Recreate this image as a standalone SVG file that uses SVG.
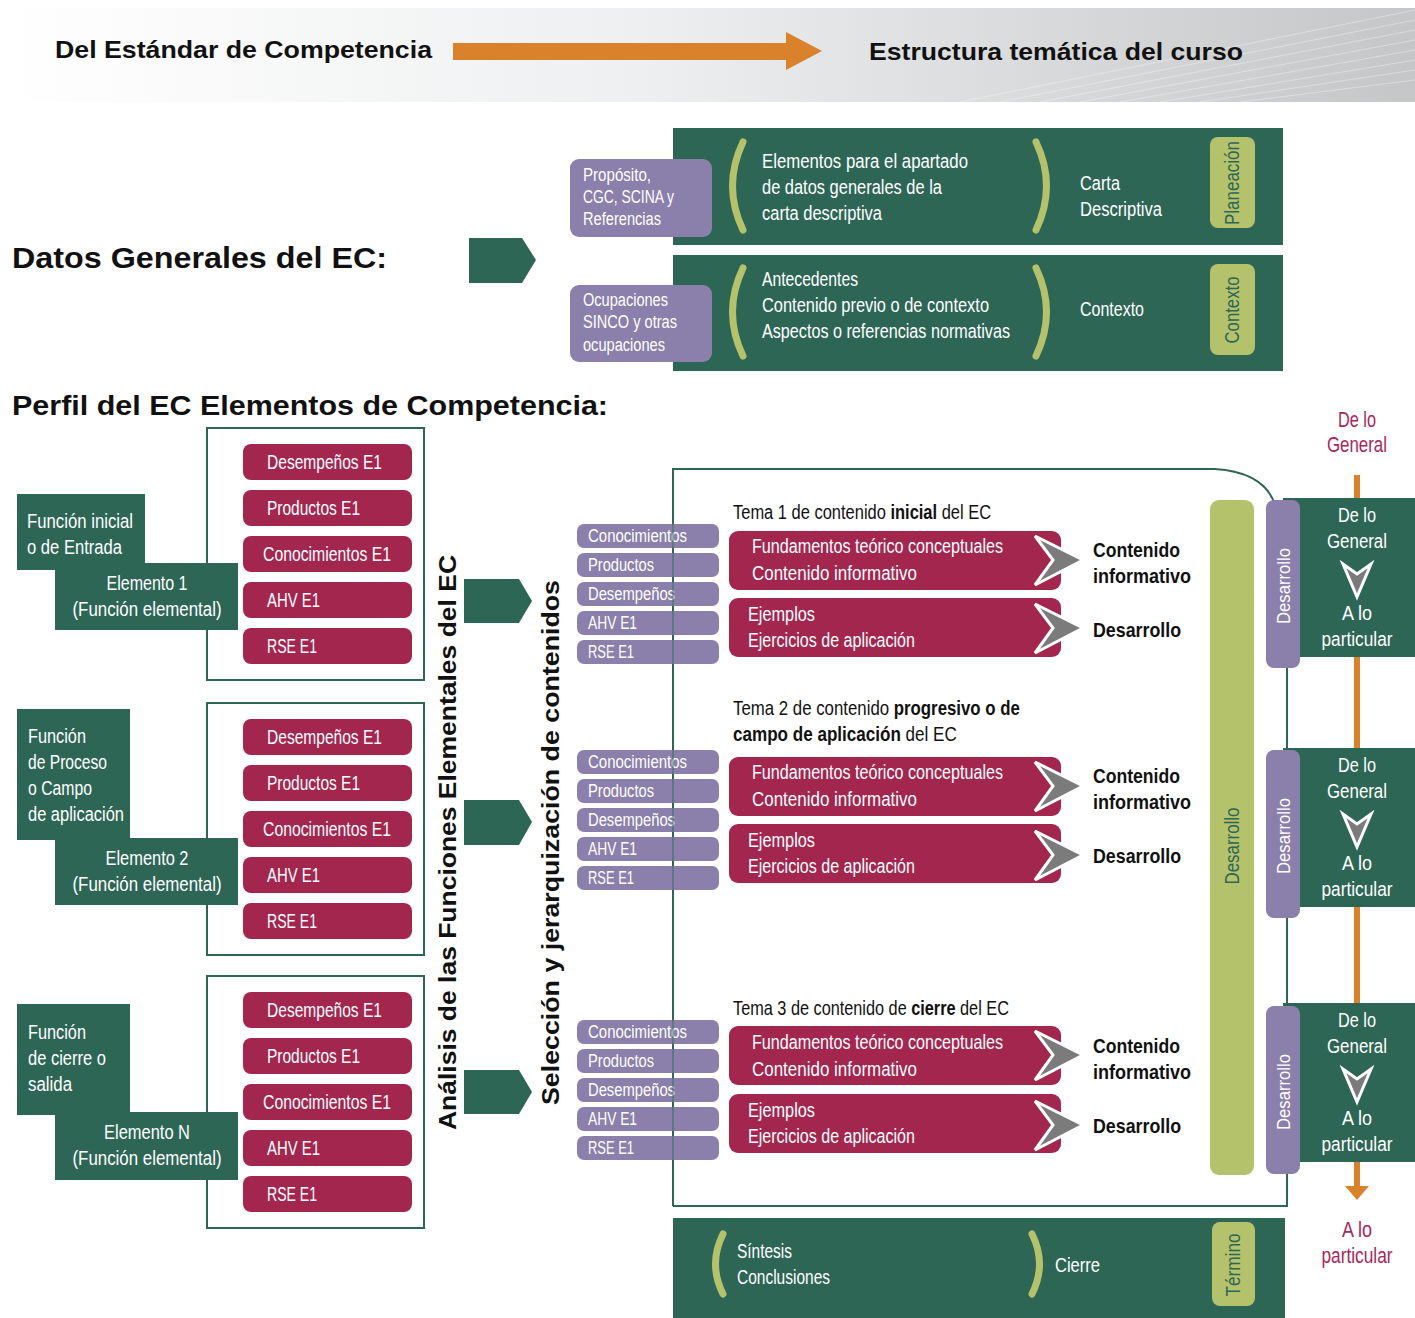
<svg xmlns="http://www.w3.org/2000/svg" width="1415" height="1318" viewBox="0 0 1415 1318">
<defs>
<linearGradient id="hdr" x1="0" y1="0" x2="1" y2="0">
<stop offset="0" stop-color="#ffffff"/>
<stop offset="0.45" stop-color="#eeeff0"/>
<stop offset="1" stop-color="#c4c6c8"/>
</linearGradient>
<style>
.c{font-family:'Liberation Sans','DejaVu Sans',sans-serif}
.h{font-family:'Liberation Sans','DejaVu Sans',sans-serif;font-weight:bold;fill:#111}
.w{fill:#ffffff;font-size:20px}
.ws{fill:#ffffff;font-size:18px}
.k{fill:#111;font-size:20px}
.b{font-weight:bold}
.kb{fill:#111;font-size:21px;font-weight:bold}
.pk{fill:#a8275a;font-size:22px}
.dg{fill:#2e6656}
.cr{fill:#a3264f}
.pu{fill:#8a80ab}
.lg{fill:#b5c26c}
.par{fill:none;stroke:#b5c26c;stroke-width:7;stroke-linecap:round}
.frame{fill:none;stroke:#2e6656;stroke-width:2}
.chev{fill:#7b7b7b;stroke:#ffffff;stroke-width:3;stroke-linejoin:miter}
.pt{fill:#2e6656;font-size:20px}
</style>
</defs>

<!-- header band -->
<rect x="0" y="8" width="1415" height="94" fill="url(#hdr)"/>
<g stroke="#ffffff" stroke-opacity="0.35" stroke-width="1">
<path d="M1000 102 L1415 20 M1040 102 L1415 30 M1080 102 L1415 40 M1120 102 L1415 50 M1160 102 L1415 60 M1200 102 L1415 70 M1240 102 L1415 80 M960 102 L1415 10"/>
</g>
<text class="h" x="55" y="58" font-size="24" textLength="377" lengthAdjust="spacingAndGlyphs">Del Estándar de Competencia</text>
<polygon points="453,43 786,43 786,32 822,51 786,70 786,60 453,60" fill="#d9822b"/>
<text class="h" x="869" y="60" font-size="24" textLength="374" lengthAdjust="spacingAndGlyphs">Estructura temática del curso</text>

<!-- section titles -->
<text class="h" x="12" y="268" font-size="29" textLength="375" lengthAdjust="spacingAndGlyphs">Datos Generales del EC:</text>
<text class="h" x="12" y="415" font-size="27" textLength="596" lengthAdjust="spacingAndGlyphs">Perfil del EC Elementos de Competencia:</text>

<g id="connectors">
<polygon class="dg" points="469,238 522,238 536,260 522,283 469,283"/>
<polygon class="dg" points="464,579 519,579 532,601 519,623 464,623"/>
<polygon class="dg" points="464,800 519,800 532,822 519,845 464,845"/>
<polygon class="dg" points="464,1070 519,1070 532,1092 519,1114 464,1114"/>
<rect x="1354" y="475" width="6" height="712" fill="#d9822b"/>
<polygon points="1345,1186 1369,1186 1357,1200" fill="#d9822b"/>
</g>

<!-- Datos generales: Planeacion -->
<g id="planeacion">
<rect class="dg" x="673" y="128" width="610" height="117"/>
<rect class="pu" x="570" y="159" width="142" height="78" rx="9"/>
<text class="c ws" x="583" y="181" textLength="68" lengthAdjust="spacingAndGlyphs">Propósito,</text>
<text class="c ws" x="583" y="203" textLength="91" lengthAdjust="spacingAndGlyphs">CGC, SCINA y</text>
<text class="c ws" x="583" y="225" textLength="78" lengthAdjust="spacingAndGlyphs">Referencias</text>
<path class="par" d="M743 142 Q722 186 743 230"/>
<text class="c w" x="762" y="168" textLength="206" lengthAdjust="spacingAndGlyphs">Elementos para el apartado</text>
<text class="c w" x="762" y="194" textLength="180" lengthAdjust="spacingAndGlyphs">de datos generales de la</text>
<text class="c w" x="762" y="220" textLength="120" lengthAdjust="spacingAndGlyphs">carta descriptiva</text>
<path class="par" d="M1036 142 Q1057 186 1036 230"/>
<text class="c w" x="1080" y="190" textLength="40" lengthAdjust="spacingAndGlyphs">Carta</text>
<text class="c w" x="1080" y="216" textLength="82" lengthAdjust="spacingAndGlyphs">Descriptiva</text>
<rect class="lg" x="1210" y="137" width="45" height="91" rx="8"/>
<text class="c pt" transform="translate(1239,183) rotate(-90)" text-anchor="middle" textLength="84" lengthAdjust="spacingAndGlyphs">Planeación</text>
</g>

<g id="contexto">
<rect class="dg" x="673" y="255" width="610" height="116"/>
<rect class="pu" x="570" y="285" width="142" height="77" rx="9"/>
<text class="c ws" x="583" y="306" textLength="85" lengthAdjust="spacingAndGlyphs">Ocupaciones</text>
<text class="c ws" x="583" y="328" textLength="94" lengthAdjust="spacingAndGlyphs">SINCO y otras</text>
<text class="c ws" x="583" y="351" textLength="82" lengthAdjust="spacingAndGlyphs">ocupaciones</text>
<path class="par" d="M743 268 Q722 312 743 356"/>
<text class="c w" x="762" y="286" textLength="96" lengthAdjust="spacingAndGlyphs">Antecedentes</text>
<text class="c w" x="762" y="312" textLength="227" lengthAdjust="spacingAndGlyphs">Contenido previo o de contexto</text>
<text class="c w" x="762" y="338" textLength="248" lengthAdjust="spacingAndGlyphs">Aspectos o referencias normativas</text>
<path class="par" d="M1036 268 Q1057 312 1036 356"/>
<text class="c w" x="1080" y="316" textLength="64" lengthAdjust="spacingAndGlyphs">Contexto</text>
<rect class="lg" x="1210" y="264" width="45" height="91" rx="8"/>
<text class="c pt" transform="translate(1239,310) rotate(-90)" text-anchor="middle" textLength="67" lengthAdjust="spacingAndGlyphs">Contexto</text>
</g>

<!-- Element 1 -->
<g id="elemento1">
<rect class="frame" x="207" y="428" width="217" height="252"/>
<rect class="cr" x="243" y="444" width="169" height="36" rx="8"/>
<rect class="cr" x="243" y="490" width="169" height="36" rx="8"/>
<rect class="cr" x="243" y="536" width="169" height="36" rx="8"/>
<rect class="cr" x="243" y="582" width="169" height="36" rx="8"/>
<rect class="cr" x="243" y="628" width="169" height="36" rx="8"/>
<text class="c w" x="267" y="469" textLength="115" lengthAdjust="spacingAndGlyphs">Desempeños E1</text>
<text class="c w" x="267" y="515" textLength="93" lengthAdjust="spacingAndGlyphs">Productos E1</text>
<text class="c w" x="263" y="561" textLength="128" lengthAdjust="spacingAndGlyphs">Conocimientos E1</text>
<text class="c w" x="267" y="607" textLength="53" lengthAdjust="spacingAndGlyphs">AHV E1</text>
<text class="c w" x="267" y="653" textLength="50" lengthAdjust="spacingAndGlyphs">RSE E1</text>
<rect class="dg" x="17" y="494" width="128" height="76"/>
<rect class="dg" x="55" y="563" width="183" height="67"/>
<text class="c w" x="27" y="528" textLength="106" lengthAdjust="spacingAndGlyphs">Función inicial</text>
<text class="c w" x="27" y="554" textLength="95" lengthAdjust="spacingAndGlyphs">o de Entrada</text>
<text class="c w" x="147" y="590" text-anchor="middle" textLength="81" lengthAdjust="spacingAndGlyphs">Elemento 1</text>
<text class="c w" x="147" y="616" text-anchor="middle" textLength="149" lengthAdjust="spacingAndGlyphs">(Función elemental)</text>
</g>

<!-- Element 2 -->
<g id="elemento2">
<rect class="frame" x="207" y="703" width="217" height="252"/>
<rect class="cr" x="243" y="719" width="169" height="36" rx="8"/>
<rect class="cr" x="243" y="765" width="169" height="36" rx="8"/>
<rect class="cr" x="243" y="811" width="169" height="36" rx="8"/>
<rect class="cr" x="243" y="857" width="169" height="36" rx="8"/>
<rect class="cr" x="243" y="903" width="169" height="36" rx="8"/>
<text class="c w" x="267" y="744" textLength="115" lengthAdjust="spacingAndGlyphs">Desempeños E1</text>
<text class="c w" x="267" y="790" textLength="93" lengthAdjust="spacingAndGlyphs">Productos E1</text>
<text class="c w" x="263" y="836" textLength="128" lengthAdjust="spacingAndGlyphs">Conocimientos E1</text>
<text class="c w" x="267" y="882" textLength="53" lengthAdjust="spacingAndGlyphs">AHV E1</text>
<text class="c w" x="267" y="928" textLength="50" lengthAdjust="spacingAndGlyphs">RSE E1</text>
<rect class="dg" x="17" y="709" width="113" height="131"/>
<rect class="dg" x="55" y="838" width="183" height="67"/>
<text class="c w" x="28" y="743" textLength="58" lengthAdjust="spacingAndGlyphs">Función</text>
<text class="c w" x="28" y="769" textLength="79" lengthAdjust="spacingAndGlyphs">de Proceso</text>
<text class="c w" x="28" y="795" textLength="64" lengthAdjust="spacingAndGlyphs">o Campo</text>
<text class="c w" x="28" y="821" textLength="96" lengthAdjust="spacingAndGlyphs">de aplicación</text>
<text class="c w" x="147" y="865" text-anchor="middle" textLength="83" lengthAdjust="spacingAndGlyphs">Elemento 2</text>
<text class="c w" x="147" y="891" text-anchor="middle" textLength="149" lengthAdjust="spacingAndGlyphs">(Función elemental)</text>
</g>

<!-- Element N -->
<g id="elementoN">
<rect class="frame" x="207" y="976" width="217" height="252"/>
<rect class="cr" x="243" y="992" width="169" height="36" rx="8"/>
<rect class="cr" x="243" y="1038" width="169" height="36" rx="8"/>
<rect class="cr" x="243" y="1084" width="169" height="36" rx="8"/>
<rect class="cr" x="243" y="1130" width="169" height="36" rx="8"/>
<rect class="cr" x="243" y="1176" width="169" height="36" rx="8"/>
<text class="c w" x="267" y="1017" textLength="115" lengthAdjust="spacingAndGlyphs">Desempeños E1</text>
<text class="c w" x="267" y="1063" textLength="93" lengthAdjust="spacingAndGlyphs">Productos E1</text>
<text class="c w" x="263" y="1109" textLength="128" lengthAdjust="spacingAndGlyphs">Conocimientos E1</text>
<text class="c w" x="267" y="1155" textLength="53" lengthAdjust="spacingAndGlyphs">AHV E1</text>
<text class="c w" x="267" y="1201" textLength="50" lengthAdjust="spacingAndGlyphs">RSE E1</text>
<rect class="dg" x="17" y="1004" width="113" height="111"/>
<rect class="dg" x="55" y="1112" width="183" height="68"/>
<text class="c w" x="28" y="1039" textLength="58" lengthAdjust="spacingAndGlyphs">Función</text>
<text class="c w" x="28" y="1065" textLength="78" lengthAdjust="spacingAndGlyphs">de cierre o</text>
<text class="c w" x="28" y="1091" textLength="44" lengthAdjust="spacingAndGlyphs">salida</text>
<text class="c w" x="147" y="1139" text-anchor="middle" textLength="86" lengthAdjust="spacingAndGlyphs">Elemento N</text>
<text class="c w" x="147" y="1165" text-anchor="middle" textLength="149" lengthAdjust="spacingAndGlyphs">(Función elemental)</text>
</g>

<!-- vertical labels -->
<text class="h" font-size="24" transform="translate(456,1130) rotate(-90)" textLength="575" lengthAdjust="spacingAndGlyphs">Análisis de las Funciones Elementales del EC</text>
<text class="h" font-size="24" transform="translate(559,1105) rotate(-90)" textLength="525" lengthAdjust="spacingAndGlyphs">Selección y jerarquización de contenidos</text>

<!-- big frame -->
<g id="marco">
<path class="frame" d="M673 1206 L673 469 L1215 469 Q1262 472 1274 502 M1287 667 L1287 1206 L673 1206"/>
</g>

<!-- Purple lists -->
<g id="lista1">
<rect class="pu" x="577" y="524" width="142" height="24" rx="7"/>
<rect class="pu" x="577" y="553" width="142" height="24" rx="7"/>
<rect class="pu" x="577" y="582" width="142" height="24" rx="7"/>
<rect class="pu" x="577" y="611" width="142" height="24" rx="7"/>
<rect class="pu" x="577" y="640" width="142" height="24" rx="7"/>
<text class="c ws" x="588" y="542" textLength="99" lengthAdjust="spacingAndGlyphs">Conocimientos</text>
<text class="c ws" x="588" y="571" textLength="66" lengthAdjust="spacingAndGlyphs">Productos</text>
<text class="c ws" x="588" y="600" textLength="87" lengthAdjust="spacingAndGlyphs">Desempeños</text>
<text class="c ws" x="588" y="629" textLength="49" lengthAdjust="spacingAndGlyphs">AHV E1</text>
<text class="c ws" x="588" y="658" textLength="46" lengthAdjust="spacingAndGlyphs">RSE E1</text>
</g>
<g id="lista2">
<rect class="pu" x="577" y="750" width="142" height="24" rx="7"/>
<rect class="pu" x="577" y="779" width="142" height="24" rx="7"/>
<rect class="pu" x="577" y="808" width="142" height="24" rx="7"/>
<rect class="pu" x="577" y="837" width="142" height="24" rx="7"/>
<rect class="pu" x="577" y="866" width="142" height="24" rx="7"/>
<text class="c ws" x="588" y="768" textLength="99" lengthAdjust="spacingAndGlyphs">Conocimientos</text>
<text class="c ws" x="588" y="797" textLength="66" lengthAdjust="spacingAndGlyphs">Productos</text>
<text class="c ws" x="588" y="826" textLength="87" lengthAdjust="spacingAndGlyphs">Desempeños</text>
<text class="c ws" x="588" y="855" textLength="49" lengthAdjust="spacingAndGlyphs">AHV E1</text>
<text class="c ws" x="588" y="884" textLength="46" lengthAdjust="spacingAndGlyphs">RSE E1</text>
</g>
<g id="lista3">
<rect class="pu" x="577" y="1020" width="142" height="24" rx="7"/>
<rect class="pu" x="577" y="1049" width="142" height="24" rx="7"/>
<rect class="pu" x="577" y="1078" width="142" height="24" rx="7"/>
<rect class="pu" x="577" y="1107" width="142" height="24" rx="7"/>
<rect class="pu" x="577" y="1136" width="142" height="24" rx="7"/>
<text class="c ws" x="588" y="1038" textLength="99" lengthAdjust="spacingAndGlyphs">Conocimientos</text>
<text class="c ws" x="588" y="1067" textLength="66" lengthAdjust="spacingAndGlyphs">Productos</text>
<text class="c ws" x="588" y="1096" textLength="87" lengthAdjust="spacingAndGlyphs">Desempeños</text>
<text class="c ws" x="588" y="1125" textLength="49" lengthAdjust="spacingAndGlyphs">AHV E1</text>
<text class="c ws" x="588" y="1154" textLength="46" lengthAdjust="spacingAndGlyphs">RSE E1</text>
</g>
<path d="M673 520 L673 668 M673 746 L673 894 M673 1016 L673 1164" stroke="#2e6656" stroke-width="1.5" stroke-opacity="0.6"/>

<!-- Tema 1 -->
<g id="tema1">
<text class="c k" transform="translate(733,519) scale(0.8236,1)">Tema 1 de contenido <tspan class="b">inicial</tspan> del EC</text>
<rect class="cr" x="729" y="531" width="332" height="59" rx="9"/>
<rect class="cr" x="729" y="598" width="332" height="59" rx="9"/>
<text class="c w" x="752" y="553" textLength="251" lengthAdjust="spacingAndGlyphs">Fundamentos teórico conceptuales</text>
<text class="c w" x="752" y="580" textLength="165" lengthAdjust="spacingAndGlyphs">Contenido informativo</text>
<text class="c w" x="748" y="621" textLength="67" lengthAdjust="spacingAndGlyphs">Ejemplos</text>
<text class="c w" x="748" y="647" textLength="167" lengthAdjust="spacingAndGlyphs">Ejercicios de aplicación</text>
<polygon class="chev" points="1035,536 1083,560 1035,585 1053,560"/>
<polygon class="chev" points="1035,604 1083,628 1035,653 1053,628"/>
<text class="c kb" x="1093" y="557" textLength="87" lengthAdjust="spacingAndGlyphs">Contenido</text>
<text class="c kb" x="1093" y="583" textLength="98" lengthAdjust="spacingAndGlyphs">informativo</text>
<text class="c kb" x="1093" y="637" textLength="88" lengthAdjust="spacingAndGlyphs">Desarrollo</text>
</g>

<!-- Tema 2 -->
<g id="tema2">
<text class="c k" transform="translate(733,715) scale(0.841,1)">Tema 2 de contenido <tspan class="b">progresivo o de</tspan></text>
<text class="c k" transform="translate(733,741) scale(0.854,1)"><tspan class="b">campo de aplicación</tspan> del EC</text>
<rect class="cr" x="729" y="757" width="332" height="59" rx="9"/>
<rect class="cr" x="729" y="824" width="332" height="59" rx="9"/>
<text class="c w" x="752" y="779" textLength="251" lengthAdjust="spacingAndGlyphs">Fundamentos teórico conceptuales</text>
<text class="c w" x="752" y="806" textLength="165" lengthAdjust="spacingAndGlyphs">Contenido informativo</text>
<text class="c w" x="748" y="847" textLength="67" lengthAdjust="spacingAndGlyphs">Ejemplos</text>
<text class="c w" x="748" y="873" textLength="167" lengthAdjust="spacingAndGlyphs">Ejercicios de aplicación</text>
<polygon class="chev" points="1035,762 1083,786 1035,811 1053,786"/>
<polygon class="chev" points="1035,831 1083,855 1035,880 1053,855"/>
<text class="c kb" x="1093" y="783" textLength="87" lengthAdjust="spacingAndGlyphs">Contenido</text>
<text class="c kb" x="1093" y="809" textLength="98" lengthAdjust="spacingAndGlyphs">informativo</text>
<text class="c kb" x="1093" y="863" textLength="88" lengthAdjust="spacingAndGlyphs">Desarrollo</text>
</g>

<!-- Tema 3 -->
<g id="tema3">
<text class="c k" transform="translate(733,1015) scale(0.8145,1)">Tema 3 de contenido de <tspan class="b">cierre</tspan> del EC</text>
<rect class="cr" x="729" y="1026" width="332" height="59" rx="9"/>
<rect class="cr" x="729" y="1094" width="332" height="59" rx="9"/>
<text class="c w" x="752" y="1049" textLength="251" lengthAdjust="spacingAndGlyphs">Fundamentos teórico conceptuales</text>
<text class="c w" x="752" y="1076" textLength="165" lengthAdjust="spacingAndGlyphs">Contenido informativo</text>
<text class="c w" x="748" y="1117" textLength="67" lengthAdjust="spacingAndGlyphs">Ejemplos</text>
<text class="c w" x="748" y="1143" textLength="167" lengthAdjust="spacingAndGlyphs">Ejercicios de aplicación</text>
<polygon class="chev" points="1035,1031 1083,1055 1035,1080 1053,1055"/>
<polygon class="chev" points="1035,1101 1083,1125 1035,1150 1053,1125"/>
<text class="c kb" x="1093" y="1053" textLength="87" lengthAdjust="spacingAndGlyphs">Contenido</text>
<text class="c kb" x="1093" y="1079" textLength="98" lengthAdjust="spacingAndGlyphs">informativo</text>
<text class="c kb" x="1093" y="1133" textLength="88" lengthAdjust="spacingAndGlyphs">Desarrollo</text>
</g>

<!-- Desarrollo long bar -->
<g id="desarrollo-barra">
<rect class="lg" x="1210" y="500" width="44" height="675" rx="9"/>
<text class="c pt" transform="translate(1239,846) rotate(-90)" text-anchor="middle" textLength="77" lengthAdjust="spacingAndGlyphs">Desarrollo</text>
</g>

<!-- Right general-particular boxes -->
<g id="gp1">
<rect class="dg" x="1283" y="498" width="132" height="159"/>
<rect class="pu" x="1266" y="500" width="34" height="168" rx="8"/>
<text class="c ws" transform="translate(1290,586) rotate(-90)" text-anchor="middle" textLength="76" lengthAdjust="spacingAndGlyphs">Desarrollo</text>
<text class="c w" x="1357" y="522" text-anchor="middle" textLength="38" lengthAdjust="spacingAndGlyphs">De lo</text>
<text class="c w" x="1357" y="548" text-anchor="middle" textLength="60" lengthAdjust="spacingAndGlyphs">General</text>
<polygon class="chev" points="1343,564 1357,574 1371,564 1357,597"/>
<text class="c w" x="1357" y="620" text-anchor="middle" textLength="30" lengthAdjust="spacingAndGlyphs">A lo</text>
<text class="c w" x="1357" y="646" text-anchor="middle" textLength="71" lengthAdjust="spacingAndGlyphs">particular</text>
</g>
<g id="gp2">
<rect class="dg" x="1283" y="748" width="132" height="159"/>
<rect class="pu" x="1266" y="750" width="34" height="168" rx="8"/>
<text class="c ws" transform="translate(1290,836) rotate(-90)" text-anchor="middle" textLength="76" lengthAdjust="spacingAndGlyphs">Desarrollo</text>
<text class="c w" x="1357" y="772" text-anchor="middle" textLength="38" lengthAdjust="spacingAndGlyphs">De lo</text>
<text class="c w" x="1357" y="798" text-anchor="middle" textLength="60" lengthAdjust="spacingAndGlyphs">General</text>
<polygon class="chev" points="1343,814 1357,824 1371,814 1357,847"/>
<text class="c w" x="1357" y="870" text-anchor="middle" textLength="30" lengthAdjust="spacingAndGlyphs">A lo</text>
<text class="c w" x="1357" y="896" text-anchor="middle" textLength="71" lengthAdjust="spacingAndGlyphs">particular</text>
</g>
<g id="gp3">
<rect class="dg" x="1283" y="1003" width="132" height="159"/>
<rect class="pu" x="1266" y="1006" width="34" height="168" rx="8"/>
<text class="c ws" transform="translate(1290,1092) rotate(-90)" text-anchor="middle" textLength="76" lengthAdjust="spacingAndGlyphs">Desarrollo</text>
<text class="c w" x="1357" y="1027" text-anchor="middle" textLength="38" lengthAdjust="spacingAndGlyphs">De lo</text>
<text class="c w" x="1357" y="1053" text-anchor="middle" textLength="60" lengthAdjust="spacingAndGlyphs">General</text>
<polygon class="chev" points="1343,1069 1357,1079 1371,1069 1357,1102"/>
<text class="c w" x="1357" y="1125" text-anchor="middle" textLength="30" lengthAdjust="spacingAndGlyphs">A lo</text>
<text class="c w" x="1357" y="1151" text-anchor="middle" textLength="71" lengthAdjust="spacingAndGlyphs">particular</text>
</g>

<text class="c pk" x="1357" y="427" text-anchor="middle" textLength="38" lengthAdjust="spacingAndGlyphs">De lo</text>
<text class="c pk" x="1357" y="452" text-anchor="middle" textLength="60" lengthAdjust="spacingAndGlyphs">General</text>
<text class="c pk" x="1357" y="1237" text-anchor="middle" textLength="30" lengthAdjust="spacingAndGlyphs">A lo</text>
<text class="c pk" x="1357" y="1263" text-anchor="middle" textLength="71" lengthAdjust="spacingAndGlyphs">particular</text>

<!-- Cierre -->
<g id="cierre">
<rect class="dg" x="673" y="1218" width="612" height="100"/>
<path class="par" d="M723 1234 Q708 1264 723 1294"/>
<text class="c w" x="737" y="1258" textLength="55" lengthAdjust="spacingAndGlyphs">Síntesis</text>
<text class="c w" x="737" y="1284" textLength="93" lengthAdjust="spacingAndGlyphs">Conclusiones</text>
<path class="par" d="M1032 1234 Q1047 1264 1032 1294"/>
<text class="c w" x="1055" y="1272" textLength="45" lengthAdjust="spacingAndGlyphs">Cierre</text>
<rect class="lg" x="1212" y="1222" width="43" height="84" rx="8"/>
<text class="c pt" transform="translate(1240,1265) rotate(-90)" text-anchor="middle" textLength="63" lengthAdjust="spacingAndGlyphs">Término</text>
</g>
</svg>
